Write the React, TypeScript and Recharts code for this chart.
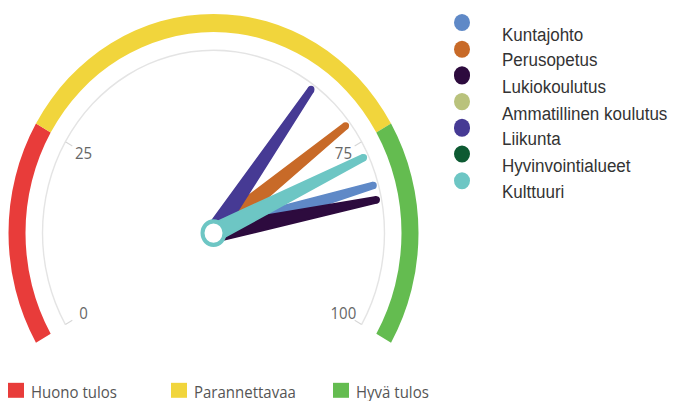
import { PieChart, Pie } from "recharts";

// gauge bands (bottom legend)
const bandNames = ["Huono tulos", "Parannettavaa", "Hyvä tulos"];
const bandSizes = [25, 50, 25];
const bandColors = ["#e83c3a", "#f1d53c", "#64bc50"];
const gaugeTicks = [0, 25, 75, 100];

// needles (right legend)
const seriesNames = [
  "Kuntajohto",
  "Perusopetus",
  "Lukiokoulutus",
  "Ammatillinen koulutus",
  "Liikunta",
  "Hyvinvointialueet",
  "Kulttuuri",
];
const seriesColors = ["#5f89c7", "#c86a28", "#2d0b3e", "#b9c27c", "#463a94", "#0d5a32", "#6dc6c4"];
const seriesValues: (number | null)[] = [81, 72, 83, null, 65, null, 77];

const W = 678;
const H = 375; // drawn height, stretched to 401
const STRETCH = 401 / 375;
const CX = 213.5;
const CY = 218;
const START = 210;
const END = -30;

const RAD = Math.PI / 180;
const pt = (r: number, angle: number) => ({
  x: CX + r * Math.cos(-angle * RAD),
  y: CY + r * Math.sin(-angle * RAD),
});

const bandData = bandNames.map((name, i) => ({ name, value: bandSizes[i], fill: bandColors[i] }));

function renderTick(props: any) {
  const { startAngle, endAngle, index } = props;
  const marks = [{ angle: startAngle, text: gaugeTicks[index] }];
  if (index === bandSizes.length - 1) marks.push({ angle: endAngle, text: gaugeTicks[index + 1] });
  return (
    <g key={`tick-${index}`}>
      {marks.map((m) => {
        const a = pt(171, m.angle);
        const b = pt(163, m.angle);
        const t = pt(150, m.angle);
        return (
          <g key={m.text}>
            <line x1={a.x} y1={a.y} x2={b.x} y2={b.y} stroke="#d6d6d6" strokeWidth={1} />
            <text
              x={t.x}
              y={t.y}
              textAnchor="middle"
              dominantBaseline="central"
              fill="#666"
              fontSize={15}
              fontFamily="'Open Sans', sans-serif"
            >
              {m.text}
            </text>
          </g>
        );
      })}
    </g>
  );
}

function needleLabel(color: string) {
  return (props: any) => {
    if (props.index !== 0) return <g key="none" />;
    const angle = props.endAngle;
    const L = 166;
    const w0 = 8.5;
    const w1 = 2.8;
    const u = { x: Math.cos(-angle * RAD), y: Math.sin(-angle * RAD) };
    const n = { x: -u.y, y: u.x };
    const tip = { x: CX + u.x * L, y: CY + u.y * L };
    const d = [
      `M${CX + n.x * w0},${CY + n.y * w0}`,
      `L${tip.x + n.x * w1},${tip.y + n.y * w1}`,
      `L${tip.x - n.x * w1},${tip.y - n.y * w1}`,
      `L${CX - n.x * w0},${CY - n.y * w0}`,
      "Z",
    ].join(" ");
    return (
      <g key="needle">
        <path d={d} fill={color} stroke={color} strokeWidth={1.5} strokeLinejoin="round" />
        <circle cx={tip.x} cy={tip.y} r={w1 + 0.6} fill={color} />
      </g>
    );
  };
}

function hubLabel(props: any) {
  return <circle key="hub" cx={props.cx} cy={props.cy} r={11} fill="#fff" stroke={seriesColors[6]} strokeWidth={4} />;
}

export default function App() {
  return (
    <div style={{ position: "absolute", left: 0, top: 0, width: W, height: 401, overflow: "hidden", background: "#fff" }}>
      <div style={{ position: "relative", width: W, height: H, transform: `scaleY(${STRETCH})`, transformOrigin: "0 0" }}>
        <PieChart width={W} height={H} margin={{ top: 0, right: 0, bottom: 0, left: 0 }}>
          <Pie
            data={bandData}
            dataKey="value"
            nameKey="name"
            cx={CX}
            cy={CY}
            startAngle={START}
            endAngle={END}
            innerRadius={188}
            outerRadius={205}
            stroke="none"
            isAnimationActive={false}
          />
          <Pie
            data={bandData.map((d) => ({ ...d, fill: "#e4e4e4" }))}
            dataKey="value"
            nameKey="name"
            cx={CX}
            cy={CY}
            startAngle={START}
            endAngle={END}
            innerRadius={170.3}
            outerRadius={171.7}
            stroke="none"
            label={renderTick}
            labelLine={false}
            isAnimationActive={false}
          />
          {seriesNames.map((name, i) => {
            const v = seriesValues[i];
            if (v == null) return null;
            const data = [
              { name, value: v },
              { name: "rest", value: 100 - v },
            ];
            return (
              <Pie
                key={name}
                data={data}
                dataKey="value"
                cx={CX}
                cy={CY}
                startAngle={START}
                endAngle={END}
                innerRadius={0}
                outerRadius={1}
                fill="none"
                stroke="none"
                label={needleLabel(seriesColors[i])}
                labelLine={false}
                isAnimationActive={false}
              />
            );
          })}
          <Pie
            data={[{ name: "hub", value: 1 }]}
            dataKey="value"
            cx={CX}
            cy={CY}
            startAngle={0}
            endAngle={360}
            innerRadius={0}
            outerRadius={1}
            fill="none"
            stroke="none"
            label={hubLabel}
            labelLine={false}
            isAnimationActive={false}
          />
        </PieChart>

        {seriesNames.map((name, i) => (
          <div key={name}>
            <span
              style={{
                position: "absolute",
                left: 462 - 8.3,
                top: 21.2 + i * 24.6 - 8.3,
                width: 16.6,
                height: 16.6,
                borderRadius: "50%",
                background: seriesColors[i],
              }}
            />
            <span
              style={{
                position: "absolute",
                left: 502,
                top: 32.7 + i * 24.6 - 10,
                lineHeight: "20px",
                fontSize: 17,
                fontFamily: "'Liberation Sans', Arial, sans-serif",
                color: "#333",
                whiteSpace: "nowrap",
              }}
            >
              {name}
            </span>
          </div>
        ))}

        {bandNames.map((name, i) => {
          const left = [8, 171, 333][i];
          return (
            <div key={name}>
              <span
                style={{
                  position: "absolute",
                  left,
                  top: 358,
                  width: 15.5,
                  height: 14,
                  background: bandColors[i],
                }}
              />
              <span
                style={{
                  position: "absolute",
                  left: left + 23,
                  top: 365.5 - 10,
                  lineHeight: "20px",
                  fontSize: 15,
                  fontFamily: "'Open Sans', sans-serif",
                  color: "#555",
                  whiteSpace: "nowrap",
                }}
              >
                {name}
              </span>
            </div>
          );
        })}
      </div>
    </div>
  );
}
